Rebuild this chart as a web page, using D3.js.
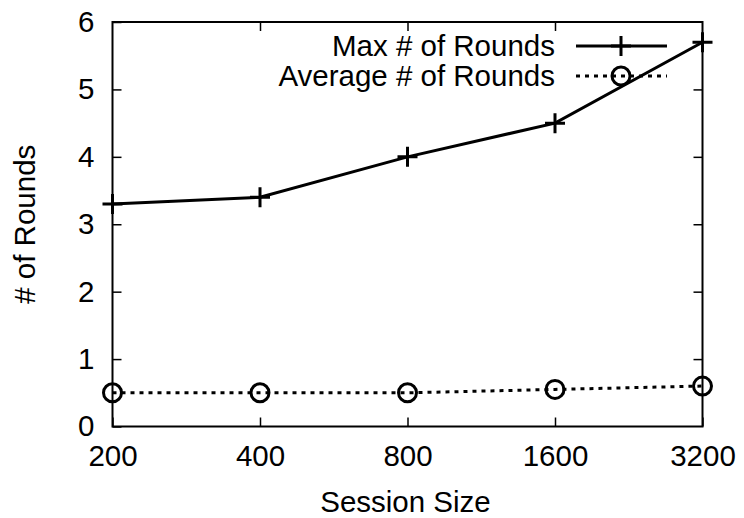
<!DOCTYPE html>
<html>
<head>
<meta charset="utf-8">
<script src="https://cdn.jsdelivr.net/npm/d3@7/dist/d3.min.js"></script>
<style>
  html, body { margin: 0; padding: 0; background: #fff; }
  svg { display: block; }
  text { font-family: "Liberation Sans", Arial, Helvetica, sans-serif; fill: #000; }
</style>
</head>
<body>
<svg id="chart" width="744" height="518"></svg>
<script>
// Session sizes on the x axis (log-2 spacing)
const sessionSizes = [200, 400, 800, 1600, 3200];
// Rounds needed per session size
const maxRounds = [3.3, 3.4, 4.0, 4.5, 5.7];
const avgRounds = [0.5, 0.5, 0.5, 0.55, 0.6];
// Axis ticks
const yTicks = [0, 1, 2, 3, 4, 5, 6];
const seriesNames = ["Max # of Rounds", "Average # of Rounds"];

const W = 744, H = 518;
const margin = { top: 22, right: 41.5, bottom: 91.5, left: 112.5 };
const iw = W - margin.left - margin.right;
const ih = H - margin.top - margin.bottom;
const FONT = 29.5;

const svg = d3.select("#chart");
const g = svg.append("g").attr("transform", `translate(${margin.left},${margin.top})`);

const x = d3.scaleLog().base(2).domain([200, 3200]).range([0, iw]);
const y = d3.scaleLinear().domain([0, 6]).range([ih, 0]);

function styleAxis(sel, showText) {
  sel.select(".domain").remove();
  sel.selectAll(".tick line").attr("stroke", "#000").attr("stroke-width", 1.5);
  sel.selectAll(".tick text").attr("font-size", FONT).attr("font-family", "Liberation Sans, Arial, sans-serif");
  if (!showText) sel.selectAll(".tick text").remove();
}

// Bottom axis with inward ticks
g.append("g").attr("transform", `translate(0,${ih})`)
  .call(d3.axisBottom(x).tickValues(sessionSizes).tickFormat(d3.format("d"))
    .tickSizeInner(-9).tickSizeOuter(0).tickPadding(19))
  .call(s => styleAxis(s, true));

// Top mirror ticks
g.append("g")
  .call(d3.axisTop(x).tickValues(sessionSizes.slice(1, -1)).tickSizeInner(-9).tickSizeOuter(0))
  .call(s => styleAxis(s, false));

// Left axis
g.append("g")
  .call(d3.axisLeft(y).tickValues(yTicks).tickFormat(d3.format("d"))
    .tickSizeInner(-9).tickSizeOuter(0).tickPadding(18))
  .call(s => styleAxis(s, true));

// Right mirror ticks
g.append("g").attr("transform", `translate(${iw},0)`)
  .call(d3.axisRight(y).tickValues(yTicks.slice(1, -1)).tickSizeInner(-9).tickSizeOuter(0))
  .call(s => styleAxis(s, false));

// Plot border
g.append("rect").attr("x", 0).attr("y", 0).attr("width", iw).attr("height", ih)
  .attr("fill", "none").attr("stroke", "#000").attr("stroke-width", 2);

// Axis titles
svg.append("text")
  .attr("x", margin.left + iw / 2 - 2).attr("y", 512)
  .attr("text-anchor", "middle").attr("font-size", FONT)
  .text("Session Size");

svg.append("text")
  .attr("transform", `translate(35,${margin.top + ih / 2}) rotate(-90)`)
  .attr("text-anchor", "middle").attr("font-size", FONT)
  .text("# of Rounds");

const line = d3.line().x(d => x(d[0])).y(d => y(d[1]));

const maxData = sessionSizes.map((s, i) => [s, maxRounds[i]]);
const avgData = sessionSizes.map((s, i) => [s, avgRounds[i]]);

function plus(sel, cx, cy) {
  const r = 10;
  sel.append("path")
    .attr("d", `M${cx - r},${cy}H${cx + r}M${cx},${cy - r}V${cy + r}`)
    .attr("stroke", "#000").attr("stroke-width", 3).attr("fill", "none");
}
function ring(sel, cx, cy) {
  sel.append("circle").attr("cx", cx).attr("cy", cy).attr("r", 9)
    .attr("fill", "none").attr("stroke", "#000").attr("stroke-width", 3);
}

// Max series: solid line with plus markers
g.append("path").datum(maxData).attr("d", line)
  .attr("fill", "none").attr("stroke", "#000").attr("stroke-width", 3);
maxData.forEach(d => plus(g, x(d[0]), y(d[1])));

// Average series: dotted line with circle markers
g.append("path").datum(avgData).attr("d", line)
  .attr("fill", "none").attr("stroke", "#000").attr("stroke-width", 3)
  .attr("stroke-dasharray", "4,5");
avgData.forEach(d => ring(g, x(d[0]), y(d[1])));

// Legend
const legend = svg.append("g");
const rows = [46, 76];
const textRight = 555, sx0 = 576, sx1 = 667, mx = 621;
legend.append("text").attr("x", textRight).attr("y", rows[0]).attr("dy", "0.35em")
  .attr("text-anchor", "end").attr("font-size", FONT).text(seriesNames[0]);
legend.append("path").attr("d", `M${sx0},${rows[0]}H${sx1}`)
  .attr("stroke", "#000").attr("stroke-width", 3);
plus(legend, mx, rows[0]);

legend.append("text").attr("x", textRight).attr("y", rows[1]).attr("dy", "0.35em")
  .attr("text-anchor", "end").attr("font-size", FONT).text(seriesNames[1]);
legend.append("path").attr("d", `M${sx0},${rows[1]}H${sx1}`)
  .attr("stroke", "#000").attr("stroke-width", 3).attr("stroke-dasharray", "4,5");
ring(legend, mx, rows[1]);
</script>
</body>
</html>
